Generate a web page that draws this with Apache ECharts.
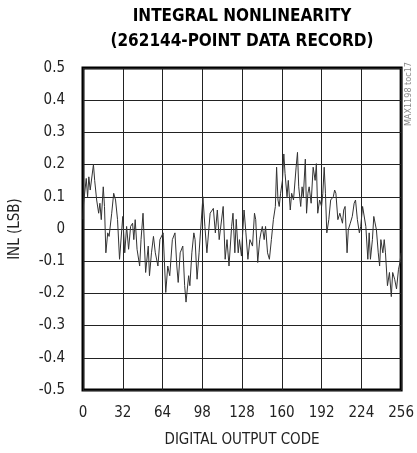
<!DOCTYPE html>
<html>
<head>
<meta charset="utf-8">
<script src="https://cdn.jsdelivr.net/npm/echarts@6/dist/echarts.min.js"></script>
<style>
html,body{margin:0;padding:0;background:#fff;}
#c{width:417px;height:453px;}
</style>
</head>
<body>
<div id="c"></div>
<script>
var titleLines = ['INTEGRAL NONLINEARITY', '(262144-POINT DATA RECORD)'];
var xTickLabels = ['0', '32', '64', '98', '128', '160', '192', '224', '256'];
var yTickLabels = ['-0.5', '-0.4', '-0.3', '-0.2', '-0.1', '0', '0.1', '0.2', '0.3', '0.4', '0.5'];
var codes = [0, 0.5, 2.6, 3.7, 4.7, 5.8, 8.4, 9.4, 11.0, 12.6, 13.6, 14.7, 16.3, 17.3, 18.4, 19.9, 21.0, 23.1, 24.7, 26.2, 27.8, 29.4,
  32.0, 33.6, 35.1, 36.7, 38.3, 39.9, 40.9, 42.0, 43.5, 45.6, 46.7, 48.3, 50.4, 52.5, 53.5, 55.1, 56.7, 58.2, 60.3, 61.9,
  64.5, 66.6, 68.2, 69.8, 71.9, 74.0, 75.5, 76.6, 78.2, 80.3, 81.8, 82.9, 85.0, 86.0, 87.6, 89.2, 90.2, 91.8, 93.4,
  96.5, 98.1, 99.7, 102.3, 104.9, 106.5, 108.1, 109.6, 112.8, 114.4, 115.9, 117.5, 119.6, 120.7,
  122.2, 123.3, 124.9, 125.9, 127.5, 128.5, 129.6, 131.1, 132.7, 134.3, 136.4, 138.0, 139.0, 140.6, 142.2, 143.2, 144.3,
  145.8, 146.9, 148.5, 150.0, 151.6, 153.2, 154.8, 155.8, 156.9, 157.9, 159.0, 160.5, 161.6, 162.6, 164.2, 165.2, 166.8,
  167.9, 169.4, 171.5, 172.6, 173.6, 175.2, 176.3, 177.3, 178.9, 179.9, 181.0, 182.0, 183.6, 185.2, 186.8, 187.8, 188.9,
  190.4, 192.0, 193.0, 194.1, 195.1, 196.2, 197.8, 199.3, 201.4, 202.5, 203.5, 205.1, 206.7, 208.8, 209.8, 210.9, 212.5,
  213.5, 215.1, 216.7, 218.2, 219.3, 220.8, 222.4, 223.5, 225.0, 226.1, 227.6, 229.2, 230.3, 231.3, 232.9, 234.0, 235.0,
  236.1, 237.6, 238.7, 239.7, 241.3, 242.4, 243.4, 245.0, 246.6, 248.1, 249.2, 250.8, 252.3, 253.9, 255.0, 256];
var inl = [0.03, 0.08, 0.157, 0.100, 0.162, 0.121, 0.200, 0.151, 0.090, 0.049, 0.080, 0.029, 0.131, 0.070, -0.074, -0.012, -0.023, 0.049, 0.111, 0.090, 0.029, -0.094,
  0.039, -0.074, 0.008, -0.063, 0.008, 0.018, -0.033, 0.029, -0.063, -0.115, -0.033, 0.049, -0.135, -0.053, -0.145, -0.074, -0.023, -0.074, -0.115, -0.033,
  -0.012, -0.197, -0.115, -0.145, -0.033, -0.012, -0.115, -0.166, -0.074, -0.053, -0.176, -0.227, -0.145, -0.176, -0.074, -0.012, -0.033, -0.156, -0.074,
  0.100, 0.008, -0.074, 0.049, 0.064, -0.012, 0.059, -0.033, 0.070, -0.094, -0.033, -0.115, 0.008, 0.049, -0.074,
  0.030, -0.074, -0.033, -0.084, -0.012, 0.059, -0.012, -0.094, -0.033, -0.053, 0.049, 0.029, -0.104, -0.033, -0.012, 0.008, -0.033,
  0.008, -0.074, -0.094, -0.033, 0.029, 0.070, 0.192, 0.090, 0.070, 0.111, 0.151, 0.233, 0.172, 0.100, 0.151, 0.059, 0.111,
  0.090, 0.192, 0.238, 0.131, 0.070, 0.131, 0.100, 0.217, 0.049, 0.111, 0.131, 0.080, 0.192, 0.151, 0.203, 0.049, 0.090,
  0.070, 0.111, 0.192, 0.111, -0.012, 0.029, 0.090, 0.100, 0.121, 0.111, 0.029, 0.049, 0.018, 0.059, 0.070, -0.074, -0.002,
  0.018, 0.039, 0.080, 0.090, 0.029, -0.012, 0.008, 0.070, 0.070, 0.008, -0.094, -0.012, -0.094, -0.033, 0.039, 0.039, -0.002,
  -0.074, -0.115, -0.033, -0.074, -0.033, -0.074, -0.176, -0.135, -0.210, -0.135, -0.156, -0.186, -0.125, -0.105, -0.074, -0.06];

var FONT = '"Liberation Sans Narrow", "DejaVu Sans Condensed", "Liberation Sans", sans-serif';
var chart = echarts.init(document.getElementById('c'), null, {renderer: 'canvas'});
var pts = codes.map(function (c, i) { return [c, inl[i]]; });
chart.setOption({
  animation: false,
  backgroundColor: '#fff',
  title: {
    text: titleLines.join('\n'),
    left: 242, top: 4, textAlign: 'center', padding: 0,
    textStyle: {fontFamily: FONT, fontWeight: 'bold', fontSize: 17, lineHeight: 25, color: '#000'}
  },
  grid: {left: 80, right: 12, top: 68, bottom: 60, show: true, borderColor: '#000', borderWidth: 3, backgroundColor: 'transparent'},
  xAxis: {
    type: 'value', min: 0, max: 256, interval: 32,
    name: 'DIGITAL OUTPUT CODE', nameLocation: 'middle', nameGap: 43,
    nameTextStyle: {fontFamily: FONT, fontSize: 15, color: '#222'},
    axisLine: {show: false}, axisTick: {show: false},
    axisLabel: {margin: 16, fontFamily: FONT, fontSize: 15, color: '#222',
      formatter: function (v) { return xTickLabels[Math.round(v / 32)]; }},
    splitLine: {show: true, lineStyle: {color: '#222', width: 1}}
  },
  yAxis: {
    type: 'value', min: -0.5, max: 0.5, interval: 0.1,
    name: 'INL (LSB)', nameLocation: 'middle', nameGap: 60,
    nameTextStyle: {fontFamily: FONT, fontSize: 15, color: '#222'},
    axisLine: {show: false}, axisTick: {show: false},
    axisLabel: {margin: 18, fontFamily: FONT, fontSize: 15, color: '#222',
      formatter: function (v) { return yTickLabels[Math.round((v + 0.5) * 10)]; }},
    splitLine: {show: true, lineStyle: {color: '#222', width: 1}}
  },
  graphic: [{
    type: 'text', left: 404, top: 62, rotation: Math.PI / 2,
    style: {text: 'MAX1198 toc17', fontFamily: FONT, fontSize: 9, fill: '#888'}
  }],
  series: [{
    type: 'line', data: pts, showSymbol: false, symbol: 'none',
    lineStyle: {color: '#333', width: 1}
  }]
});
</script>
</body>
</html>
